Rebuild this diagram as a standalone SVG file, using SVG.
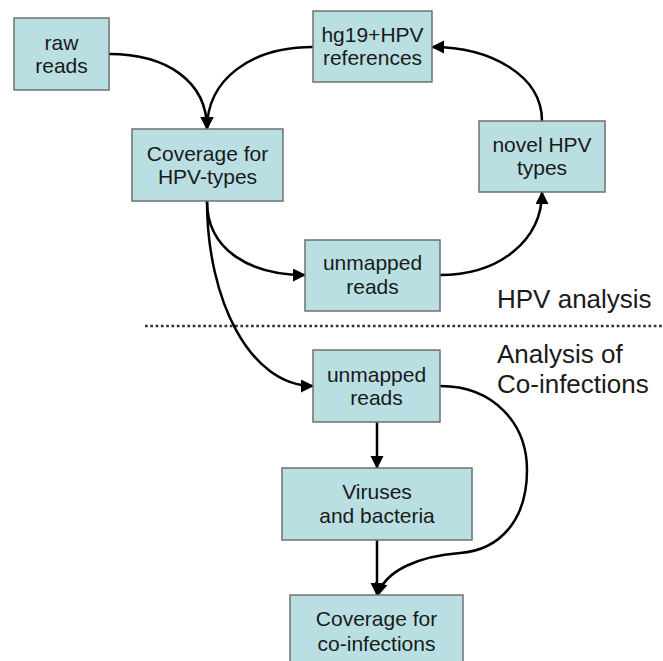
<svg xmlns="http://www.w3.org/2000/svg" width="663" height="661" viewBox="0 0 663 661">
<style>
.box{fill:#b9dfe3;stroke:#707070;stroke-width:1.5}
.t{font-family:"Liberation Sans",Arial,sans-serif;font-size:21px;fill:#1a1a1a;text-anchor:middle}
.lbl{font-family:"Liberation Sans",Arial,sans-serif;font-size:26px;fill:#1a1a1a}
.c{fill:none;stroke:#000;stroke-width:2.5;marker-end:url(#ah)}
</style>
<defs>
<marker id="ah" markerUnits="userSpaceOnUse" markerWidth="14" markerHeight="14" refX="12" refY="6.5" orient="auto" viewBox="0 0 14 14">
<path d="M0,0 L13,6.5 L0,13 z" fill="#000"/>
</marker>
</defs>
<rect width="663" height="661" fill="#fff"/>
<line x1="145" y1="326" x2="663" y2="326" stroke="#333" stroke-width="2.7" stroke-dasharray="2.7 2.6"/>
<g id="connectors">
<path class="c" d="M109,54 C165,54 207,80 207,129"/>
<path class="c" d="M313,47 C250,47 207,80 207,129"/>
<path class="c" d="M207,201 C207,250 250,275 305,275"/>
<path class="c" d="M440,275 C500,275 542,240 542,192"/>
<path class="c" d="M542,121 C542,75 490,47 432,47"/>
<path class="c" d="M207,201 C207,300 250,386 313,386"/>
<path class="c" d="M377,422 L377,468"/>
<path class="c" d="M377,540 L377,595"/>
<path class="c" d="M440,386 C495,386 527,425 527,470 C527,520 500,550 460,553 C420,556 385,570 378,595"/>
</g>
<g id="raw_reads"><rect class="box" x="14" y="18" width="95" height="72"/><text class="t" x="61.5" y="50">raw</text><text class="t" x="61.5" y="73">reads</text></g>
<g id="hg19_refs"><rect class="box" x="313" y="11" width="119" height="71"/><text class="t" x="372.5" y="42">hg19+HPV</text><text class="t" x="372.5" y="65">references</text></g>
<g id="coverage_hpv"><rect class="box" x="132" y="129" width="151" height="72"/><text class="t" x="207.5" y="161">Coverage for</text><text class="t" x="207.5" y="184">HPV-types</text></g>
<g id="novel_hpv"><rect class="box" x="479" y="121" width="126" height="71"/><text class="t" x="542" y="152">novel HPV</text><text class="t" x="542" y="175">types</text></g>
<g id="unmapped_top"><rect class="box" x="305" y="240" width="135" height="71"/><text class="t" x="372.5" y="270">unmapped</text><text class="t" x="372.5" y="294">reads</text></g>
<g id="unmapped_bottom"><rect class="box" x="313" y="350" width="127" height="72"/><text class="t" x="376.5" y="382">unmapped</text><text class="t" x="376.5" y="405">reads</text></g>
<g id="viruses"><rect class="box" x="282" y="468" width="190" height="72"/><text class="t" x="377" y="499">Viruses</text><text class="t" x="377" y="523">and bacteria</text></g>
<g id="coverage_coinf"><rect class="box" x="290" y="595" width="173" height="72"/><text class="t" x="376.5" y="626">Coverage for</text><text class="t" x="376.5" y="651">co-infections</text></g>
<g id="labels">
<text class="lbl" x="497" y="308">HPV analysis</text>
<text class="lbl" x="497" y="363">Analysis of</text>
<text class="lbl" x="497" y="393">Co-infections</text>
</g>
</svg>
